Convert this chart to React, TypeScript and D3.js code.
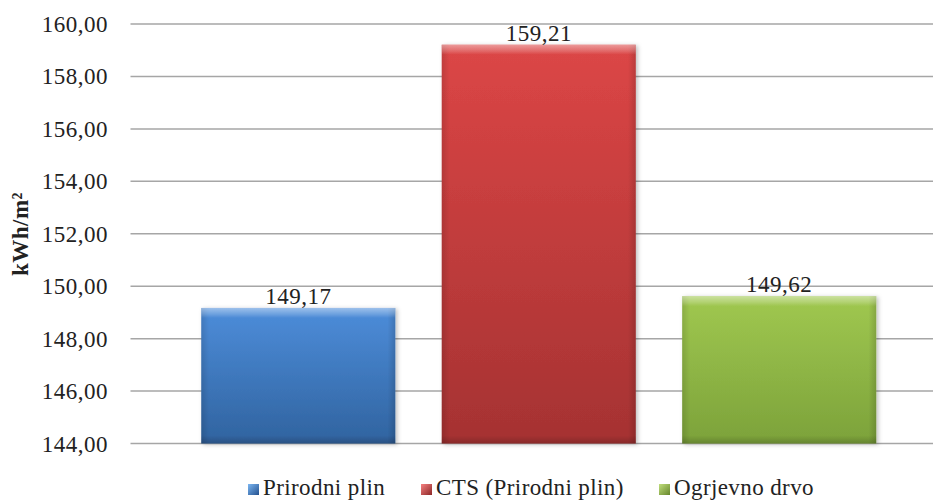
import React from "react";
import * as d3 from "d3";

const categories = ["Prirodni plin", "CTS (Prirodni plin)", "Ogrjevno drvo"];
const values = [149.17, 159.21, 149.62];
const valueLabels = ["149,17", "159,21", "149,62"];
const yTicks = [144, 146, 148, 150, 152, 154, 156, 158, 160];
const yTickLabels = ["144,00", "146,00", "148,00", "150,00", "152,00", "154,00", "156,00", "158,00", "160,00"];
const yTitle = "kWh/m²";

const palette = [
  { top: "#4d8dda", bottom: "#30639f", hi: "#7bb6f2", edge: "#24518f" },
  { top: "#dc4646", bottom: "#a53232", hi: "#f58080", edge: "#8c2626" },
  { top: "#a0c850", bottom: "#7ca23a", hi: "#c0de7c", edge: "#66862c" },
];

const W = 935;
const H = 500;
const FONT = '"Liberation Serif", "DejaVu Serif", serif';

export default function App() {
  const y = d3.scaleLinear().domain([144, 160]).range([443.5, 24]);
  const x = d3
    .scaleBand<string>()
    .domain(categories)
    .range([178, 899.5])
    .paddingInner(0.193)
    .paddingOuter(0.0967);
  const gridX0 = 130.5;
  const gridX1 = 933;

  const legendX = [248, 421, 659];
  const txt = { fontFamily: FONT, fontSize: 23, fill: "#222" } as React.CSSProperties;

  return (
    <div style={{ position: "absolute", left: 0, top: 0 }}>
      <svg width={W} height={H} style={{ display: "block", background: "#fff" }}>
        <defs>
          {palette.map((p, i) => (
            <g key={i}>
              <linearGradient id={`body${i}`} x1="0" y1="0" x2="0" y2="1">
                <stop offset="0" stopColor={p.top} />
                <stop offset="1" stopColor={p.bottom} />
              </linearGradient>
              <linearGradient id={`leg${i}`} x1="0" y1="0" x2="1" y2="1">
                <stop offset="0" stopColor={p.hi} />
                <stop offset="1" stopColor={p.edge} />
              </linearGradient>
            </g>
          ))}
          <linearGradient id="sides" x1="0" y1="0" x2="1" y2="0">
            <stop offset="0" stopColor="#000" stopOpacity="0.12" />
            <stop offset="0.04" stopColor="#000" stopOpacity="0" />
            <stop offset="0.96" stopColor="#000" stopOpacity="0" />
            <stop offset="1" stopColor="#000" stopOpacity="0.15" />
          </linearGradient>
          <linearGradient id="topbevel" x1="0" y1="0" x2="0" y2="1">
            <stop offset="0" stopColor="#fff" stopOpacity="0.45" />
            <stop offset="0.6" stopColor="#fff" stopOpacity="0.2" />
            <stop offset="1" stopColor="#fff" stopOpacity="0" />
          </linearGradient>
          <linearGradient id="botbevel" x1="0" y1="0" x2="0" y2="1">
            <stop offset="0" stopColor="#000" stopOpacity="0" />
            <stop offset="1" stopColor="#000" stopOpacity="0.18" />
          </linearGradient>
          <filter id="shadow" x="-10%" y="-10%" width="120%" height="120%">
            <feDropShadow dx="2" dy="1" stdDeviation="2" floodColor="#000" floodOpacity="0.25" />
          </filter>
        </defs>

        {yTicks.map((t) => (
          <line key={t} x1={gridX0} x2={gridX1} y1={y(t)} y2={y(t)} stroke="#a6a6a6" strokeWidth={1.5} />
        ))}

        {yTicks.map((t, i) => (
          <text key={t} x={108} y={y(t) + 8} textAnchor="end" style={{ ...txt, letterSpacing: 0.5 }}>
            {yTickLabels[i]}
          </text>
        ))}

        <text
          transform={`translate(28,234) rotate(-90)`}
          textAnchor="middle"
          style={{ ...txt, fontWeight: "bold", letterSpacing: 0.5 }}
        >
          {yTitle}
        </text>

        {categories.map((c, i) => {
          const bx = x(c)!;
          const bw = x.bandwidth();
          const by = y(values[i]);
          const bh = y(144) - by;
          return (
            <g key={c}>
              <rect x={bx} y={by} width={bw} height={bh} fill={`url(#body${i})`} filter="url(#shadow)" />
              <rect x={bx} y={by} width={bw} height={bh} fill="url(#sides)" />
              <rect x={bx} y={by} width={bw} height={Math.min(10, bh)} fill="url(#topbevel)" />
              <rect x={bx} y={by + bh - 8} width={bw} height={8} fill="url(#botbevel)" />
              <text x={bx + bw / 2} y={by - 4} textAnchor="middle" style={{ ...txt, letterSpacing: 0.5 }}>
                {valueLabels[i]}
              </text>
            </g>
          );
        })}

        {categories.map((c, i) => (
          <g key={c}>
            <rect x={legendX[i]} y={484} width={11} height={11} fill={`url(#leg${i})`} />
            <text x={legendX[i] + 15} y={495} style={{ ...txt, letterSpacing: 0.4 }}>
              {c}
            </text>
          </g>
        ))}
      </svg>
    </div>
  );
}
